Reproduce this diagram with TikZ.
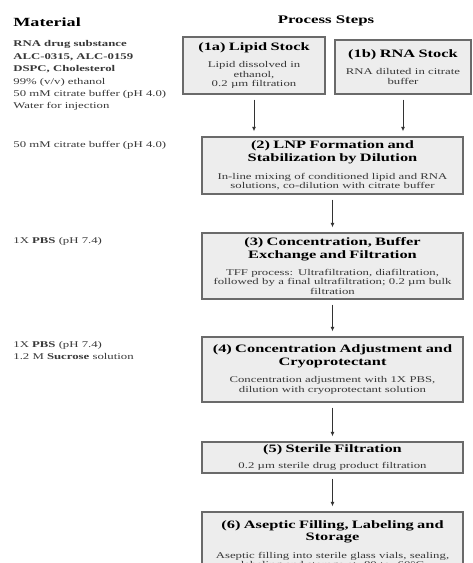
\documentclass[tikz,border=0pt]{standalone}
\usepackage{fontspec}
\setmainfont[FakeStretch=1.45]{Liberation Serif}
\usetikzlibrary{arrows.meta,positioning}

\definecolor{boxfill}{HTML}{EDEDED}
\definecolor{boxline}{HTML}{6A6A6A}
\definecolor{bodytext}{HTML}{383838}

\newcommand{\ttlfont}{\fontsize{11.3}{12.6}\selectfont\bfseries}
\newcommand{\bdyfont}{\fontsize{8.8}{9.4}\selectfont\color{bodytext}}
\newcommand{\matfont}{\fontsize{8.8}{12.4}\selectfont\color{bodytext}}
\newcommand{\hdfont}{\fontsize{12.5}{14}\selectfont\bfseries}

\tikzset{every picture/.style={line width=0.75pt}}
\tikzset{
  stepbox/.style={draw=boxline, fill=boxfill, line width=1.1pt, align=center, inner sep=2pt},
  sidetext/.style={anchor=base west, inner sep=0pt, font=\matfont},
}

\begin{document}
\begin{tikzpicture}[x=1pt, y=-1pt, >={Latex[length=4.5pt,width=3.8pt]}]
				\useasboundingbox (0,0) rectangle (472,563);
				\clip (0,0) rectangle (472,563);
				\path (254,65.5)coordinate(L)
				(403,67)coordinate(R)
				(332.5,165.5)coordinate(F)
				(332.5,266)coordinate(C)
				(332.5,369.5)coordinate(A)
				(332.5,457.5)coordinate(S)
				(332.5,545)coordinate(P);
				% headings
				\node[anchor=base west, inner sep=0pt, font=\hdfont] (mathead) at (13,26) {Material};
				\node[anchor=base, inner sep=0pt, font=\hdfont, font=\fontsize{11.6}{14}\selectfont\bfseries] (prochead) at (326,23.5) {Process Steps};
				% materials per step
				\node[anchor=north west, inner sep=0pt, align=left, font=\matfont] (matlist) at (13,40.5)
				  {\textbf{RNA drug substance}\\ \textbf{ALC-0315, ALC-0159}\\ \textbf{DSPC, Cholesterol}\\
				   99\% (v/v) ethanol\\ 50 mM citrate buffer (pH 4.0)\\ Water for injection};
				\node[sidetext] (matlnp) at (13,147.5) {50 mM citrate buffer (pH 4.0)};
				\node[sidetext] (matconc) at (13,243.5) {1X \textbf{PBS} (pH 7.4)};
				\node[sidetext] (matadj) at (13,347.5) {1X \textbf{PBS} (pH 7.4)};
				\node[sidetext] (matsuc) at (13,359.9) {1.2 M \textbf{Sucrose} solution};
				% process steps
				\node[stepbox, minimum width=142pt, minimum height=57pt, text width=136pt] (lipid) at (L)
				  {{\ttlfont (1a) Lipid Stock\par}\vspace{8.1pt}{\bdyfont Lipid dissolved in\\ ethanol,\\ 0.2 µm filtration\par}};
				\node[stepbox, minimum width=136pt, minimum height=54pt, text width=130pt] (rna) at (R)
				  {{\ttlfont (1b) RNA Stock\par}\vspace{8.1pt}{\bdyfont RNA diluted in citrate\\ buffer\par}};
				\node[stepbox, minimum width=261pt, minimum height=57pt, text width=255pt] (lnp) at (F)
				  {{\ttlfont (2) LNP Formation and\\ Stabilization by Dilution\par}\vspace{8.1pt}{\bdyfont In-line mixing of conditioned lipid and RNA\\ solutions, co-dilution with citrate buffer\par}};
				\node[stepbox, minimum width=261pt, minimum height=66pt, text width=255pt] (conc) at (C)
				  {{\ttlfont (3) Concentration, Buffer\\ Exchange and Filtration\par}\vspace{8.1pt}{\bdyfont TFF process: Ultrafiltration, diafiltration,\\ followed by a final ultrafiltration; 0.2 µm bulk\\ filtration\par}};
				\node[stepbox, minimum width=261pt, minimum height=65pt, text width=255pt] (adjust) at (A)
				  {{\ttlfont (4) Concentration Adjustment and\\ Cryoprotectant\par}\vspace{8.1pt}{\bdyfont Concentration adjustment with 1X PBS,\\ dilution with cryoprotectant solution\par}};
				\node[stepbox, minimum width=261pt, minimum height=31pt, text width=255pt] (sterile) at (S)
				  {{\ttlfont (5) Sterile Filtration\par}\vspace{7.5pt}{\bdyfont 0.2 µm sterile drug product filtration\par}};
				\node[stepbox, minimum width=261pt, minimum height=66pt, text width=255pt] (fill) at (P)
				  {{\ttlfont (6) Aseptic Filling, Labeling and\\ Storage\par}\vspace{8.1pt}{\bdyfont Aseptic filling into sterile glass vials, sealing,\\ labeling and storage at -80 to -60°C\par}};
				\foreach \a/\b in {lipid/lnp,rna/lnp,lnp/conc,conc/adjust,adjust/sterile,sterile/fill}
				  \draw[->, draw=black!80, line width=0.9pt, shorten <=5pt, shorten >=5pt] (\a.south) -- (\a.south |- \b.north);
			\end{tikzpicture}
\end{document}
